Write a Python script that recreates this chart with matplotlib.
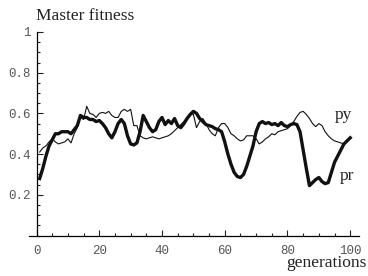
import numpy as np
import matplotlib.pyplot as plt
from matplotlib.ticker import MultipleLocator

# generations 1..100
gens = np.arange(1, 101)

# master fitness, thick curve
pr = [0.28, 0.33, 0.39, 0.44, 0.47, 0.50, 0.50, 0.51, 0.51, 0.51,
      0.50, 0.52, 0.54, 0.59, 0.58, 0.58, 0.57, 0.57, 0.56, 0.565,
      0.55, 0.53, 0.50, 0.48, 0.51, 0.55, 0.57, 0.55, 0.49, 0.45,
      0.445, 0.455, 0.51, 0.59, 0.56, 0.53, 0.51, 0.52, 0.56, 0.58,
      0.545, 0.565, 0.55, 0.575, 0.54, 0.53, 0.55, 0.575, 0.595, 0.61,
      0.60, 0.575, 0.56, 0.545, 0.54, 0.535, 0.525, 0.52, 0.51, 0.46,
      0.40, 0.35, 0.31, 0.29, 0.285, 0.30, 0.34, 0.39, 0.44, 0.51,
      0.55, 0.56, 0.55, 0.555, 0.545, 0.55, 0.54, 0.555, 0.54, 0.535,
      0.545, 0.55, 0.545, 0.51, 0.42, 0.33, 0.245, 0.26, 0.275, 0.285,
      0.265, 0.255, 0.26, 0.31, 0.36, 0.39, 0.42, 0.45, 0.465, 0.48]

# master fitness, thin curve
py = [0.41, 0.43, 0.44, 0.46, 0.475, 0.46, 0.45, 0.455, 0.46, 0.475,
      0.455, 0.50, 0.53, 0.58, 0.57, 0.635, 0.60, 0.595, 0.58, 0.60,
      0.605, 0.60, 0.61, 0.59, 0.58, 0.58, 0.61, 0.62, 0.61, 0.62,
      0.54, 0.54, 0.49, 0.48, 0.475, 0.48, 0.485, 0.48, 0.475, 0.48,
      0.485, 0.49, 0.50, 0.515, 0.53, 0.545, 0.56, 0.58, 0.60, 0.595,
      0.53, 0.56, 0.575, 0.55, 0.52, 0.50, 0.49, 0.53, 0.55, 0.55,
      0.53, 0.50, 0.49, 0.475, 0.465, 0.47, 0.49, 0.49, 0.49, 0.475,
      0.45, 0.46, 0.475, 0.485, 0.50, 0.495, 0.51, 0.515, 0.52, 0.525,
      0.54, 0.56, 0.585, 0.605, 0.61, 0.595, 0.575, 0.55, 0.535, 0.55,
      0.54, 0.51, 0.49, 0.475, 0.465, 0.46, 0.455, 0.45, 0.465, 0.48]

xticks = [0, 20, 40, 60, 80, 100]
yticks = [0.2, 0.4, 0.6, 0.8, 1.0]
ytick_labels = ['0.2', '0.4', '0.6', '0.8', '1']

W, H = 368, 276
fig = plt.figure(figsize=(W / 100, H / 100), dpi=100)
ax = fig.add_axes([29 / W, 1 - 235.5 / H, 330 / W, 203.5 / H])

ax.plot(gens, py, color='#111111', lw=0.8)
ax.plot(gens, pr, color='#111111', lw=2.4)

ax.set_xlim(-2.4, 102.8)
ax.set_ylim(0, 1.0)

for s in ['top', 'right']:
    ax.spines[s].set_visible(False)
ax.spines['left'].set_position(('data', 0))
ax.spines['left'].set_linewidth(0.9)
ax.spines['bottom'].set_linewidth(0.9)

ax.set_xticks(xticks)
ax.set_yticks(yticks)
ax.set_yticklabels(ytick_labels)
ax.xaxis.set_minor_locator(MultipleLocator(5))
ax.yaxis.set_minor_locator(MultipleLocator(0.05))
ax.tick_params(which='both', direction='in', color='#222222', width=0.8,
               labelsize=9, labelcolor='#555555')
ax.tick_params(which='major', length=4)
ax.tick_params(which='minor', length=2)
ax.tick_params(axis='x', pad=6.5)
ax.tick_params(axis='y', pad=4)
for lab in ax.get_xticklabels() + ax.get_yticklabels():
    lab.set_family('Liberation Mono')

serif = dict(family='Liberation Serif', color='#222222')
fig.text(36 / W, 1 - 20 / H, 'Master fitness', fontsize=12.5, va='baseline', ha='left', **serif)
fig.text(367 / W, 1 - 267 / H, 'generations', fontsize=12.5, va='baseline', ha='right', **serif)
fig.text(335 / W, 1 - 119 / H, 'py', fontsize=12.5, va='baseline', ha='left', **serif)
fig.text(340 / W, 1 - 180 / H, 'pr', fontsize=12.5, va='baseline', ha='left', **serif)

fig.savefig('out.png', dpi=100)
